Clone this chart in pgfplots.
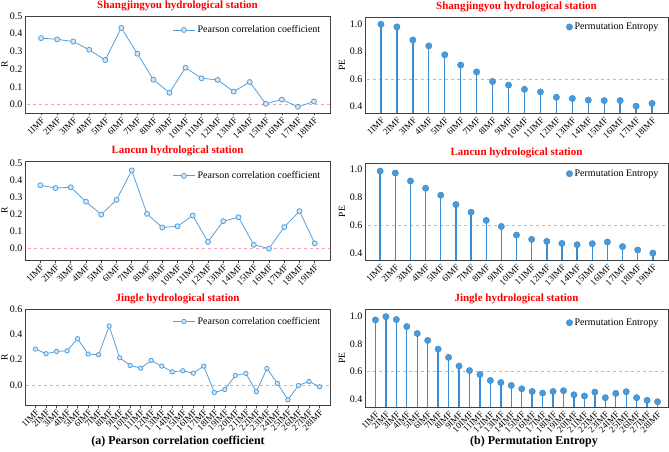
\documentclass[border=0pt]{standalone}
\usepackage{fontspec}
\setmainfont{Liberation Serif}
\usepackage{pgfplots}
\usepackage{pgfplotstable}
\pgfplotsset{compat=1.18}
\definecolor{lblue}{RGB}{84,160,220}
\definecolor{pblue}{RGB}{55,142,214}
\definecolor{bblue}{RGB}{70,155,222}
\definecolor{dpink}{RGB}{245,160,190}
\definecolor{tred}{RGB}{255,0,0}

\pgfplotstableread{
x y
1 1.000
2 0.981
3 0.885
4 0.842
5 0.777
6 0.702
7 0.652
8 0.582
9 0.556
10 0.525
11 0.506
12 0.467
13 0.458
14 0.446
15 0.443
16 0.443
17 0.402
18 0.422
}\peA
\pgfplotstableread{
x y
1 0.990
2 0.976
3 0.919
4 0.867
5 0.817
6 0.750
7 0.695
8 0.636
9 0.593
10 0.531
11 0.500
12 0.486
13 0.471
14 0.462
15 0.469
16 0.481
17 0.448
18 0.424
19 0.402
}\peB
\pgfplotstableread{
x y
1 0.971
2 0.995
3 0.974
4 0.924
5 0.874
6 0.824
7 0.762
8 0.702
9 0.640
10 0.607
11 0.579
12 0.536
13 0.521
14 0.500
15 0.476
16 0.457
17 0.445
18 0.457
19 0.462
20 0.433
21 0.424
22 0.452
23 0.412
24 0.443
25 0.455
26 0.412
27 0.393
28 0.383
}\peC

\pgfplotsset{
  panel/.style={
    scale only axis,
    axis line style={black!75, line width=0.6pt},
    /pgf/number format/assume math mode=true,
    tick pos=left,
    ytick style={draw=none},
    xtick style={black!75, line width=0.6pt},
    tick align=outside,
    major tick length=2.5pt,
    yticklabel style={font=\fontsize{10}{12}\selectfont, xshift=3.5pt, /pgf/number format/fixed, /pgf/number format/fixed zerofill, /pgf/number format/precision=1},
    xticklabel style={font=\fontsize{9}{10}\selectfont, rotate=45, anchor=north east, inner sep=1pt},
    xticklabel={\pgfmathprintnumber[int trunc]{\tick}IMF},
    title style={font=\bfseries\fontsize{11}{13}\selectfont, text=tred, yshift=-4pt},
    legend style={draw=none, fill=none, font=\fontsize{10}{12}\selectfont, cells={anchor=west}, anchor=east},
  },
  rpanel/.style={panel, legend image code/.code={\draw[mark repeat=2,mark phase=2] plot coordinates {(0cm,0cm)(0.4cm,0cm)(0.8cm,0cm)};}, ylabel={R},
    ylabel style={font=\fontsize{9.5}{11}\selectfont, at={(axis description cs:-0.067,0.5)}, anchor=center}},
  pepanel/.style={panel, xtick style={draw=none}, ytick={0.4,0.6,0.8,1.0}, ylabel={PE},
    ylabel style={font=\fontsize{9.5}{11}\selectfont, at={(axis description cs:-0.076,0.5)}, anchor=center}},
  rline/.style={lblue, line width=0.8pt, mark=*, mark size=2.5pt, mark options={fill=lblue!25, draw=lblue, line width=0.8pt}},
  stem/.style={ycomb, pblue, line width=1.4pt, forget plot},
  balls/.style={only marks, mark=*, mark size=3.2pt, mark options={fill=bblue, draw=bblue!80!black, line width=0.3pt}},
  zline/.style={dpink, dashed, line width=0.5pt, forget plot},
}

\begin{document}
\begin{tikzpicture}
\useasboundingbox (0,0) rectangle (669pt,-452pt);

% P1
\begin{axis}[rpanel, at={(25pt,-16pt)}, anchor=north west, width=305pt, height=97pt,
  xmin=0, xmax=19, xtick={1,...,18}, ymin=-0.048, ymax=0.5, ytick={0,0.1,0.2,0.3,0.4,0.5},
  title={Shangjingyou hydrological station}, legend style={at={(0.985,0.856)}}]
\addplot[zline] coordinates {(-1,0) (40,0)};
\addplot[rline] coordinates {(1,0.375)(2,0.368)(3,0.356)(4,0.309)(5,0.251)(6,0.433)(7,0.287)(8,0.140)(9,0.066)(10,0.208)(11,0.148)(12,0.139)(13,0.073)(14,0.127)(15,0.004)(16,0.028)(17,-0.013)(18,0.017)};
\addlegendentry{Pearson correlation coefficient}
\end{axis}

% P2
\begin{axis}[pepanel, at={(365pt,-17pt)}, anchor=north west, width=303pt, height=96pt,
  xmin=0, xmax=19, xtick={1,...,18}, ymin=0.352, ymax=1.053,
  title={Shangjingyou hydrological station}, legend style={at={(0.985,0.896)}}]
\addplot[zline] coordinates {(-1,0.6) (40,0.6)};
\addplot[stem] table[x=x,y=y] {\peA};
\addplot[balls] table[x=x,y=y] {\peA};
\addlegendentry{Permutation Entropy}
\end{axis}

% P3
\begin{axis}[rpanel, at={(25pt,-161pt)}, anchor=north west, width=305pt, height=99pt,
  xmin=0, xmax=20, xtick={1,...,19}, ymin=-0.069, ymax=0.512, ytick={0,0.1,0.2,0.3,0.4,0.5},
  title={Lancun hydrological station}, legend style={at={(0.985,0.85)}}]
\addplot[zline] coordinates {(-1,0) (40,0)};
\addplot[rline] coordinates {(1,0.370)(2,0.353)(3,0.358)(4,0.273)(5,0.198)(6,0.284)(7,0.457)(8,0.202)(9,0.122)(10,0.129)(11,0.192)(12,0.037)(13,0.159)(14,0.182)(15,0.020)(16,-0.002)(17,0.124)(18,0.218)(19,0.029)};
\addlegendentry{Pearson correlation coefficient}
\end{axis}

% P4
\begin{axis}[pepanel, at={(365pt,-163pt)}, anchor=north west, width=303pt, height=97pt,
  xmin=0, xmax=20, xtick={1,...,19}, ymin=0.352, ymax=1.048,
  title={Lancun hydrological station}, legend style={at={(0.985,0.89)}}]
\addplot[zline] coordinates {(-1,0.6) (40,0.6)};
\addplot[stem] table[x=x,y=y] {\peB};
\addplot[balls] table[x=x,y=y] {\peB};
\addlegendentry{Permutation Entropy}
\end{axis}

% P5
\begin{axis}[rpanel, at={(25pt,-309pt)}, anchor=north west, width=305pt, height=96pt,
  xmin=0, xmax=29, xtick={1,...,28}, ymin=-0.16, ymax=0.6, ytick={0,0.2,0.4,0.6},
  title={Jingle hydrological station}, legend style={at={(0.985,0.87)}}]
\addplot[zline] coordinates {(-1,0) (40,0)};
\addplot[rline, mark size=2.2pt] coordinates {(1,0.283)(2,0.246)(3,0.264)(4,0.269)(5,0.365)(6,0.243)(7,0.238)(8,0.465)(9,0.214)(10,0.153)(11,0.132)(12,0.193)(13,0.148)(14,0.103)(15,0.111)(16,0.092)(17,0.148)(18,-0.061)(19,-0.037)(20,0.074)(21,0.090)(22,-0.055)(23,0.129)(24,0.011)(25,-0.119)(26,-0.005)(27,0.026)(28,-0.016)};
\addlegendentry{Pearson correlation coefficient}
\end{axis}

% P6
\begin{axis}[pepanel, at={(365pt,-309pt)}, anchor=north west, width=303pt, height=98pt,
  xmin=0, xmax=29, xtick={1,...,28}, ymin=0.345, ymax=1.05,
  title={Jingle hydrological station}, legend style={at={(0.985,0.86)}}]
\addplot[zline] coordinates {(-1,0.6) (40,0.6)};
\addplot[stem] table[x=x,y=y] {\peC};
\addplot[balls] table[x=x,y=y] {\peC};
\addlegendentry{Permutation Entropy}
\end{axis}

\node[font=\bfseries\fontsize{12}{14}\selectfont] at (178pt,-442pt) {(a) Pearson correlation coefficient};
\node[font=\bfseries\fontsize{12}{14}\selectfont] at (534pt,-442pt) {(b) Permutation Entropy};
\end{tikzpicture}
\end{document}
